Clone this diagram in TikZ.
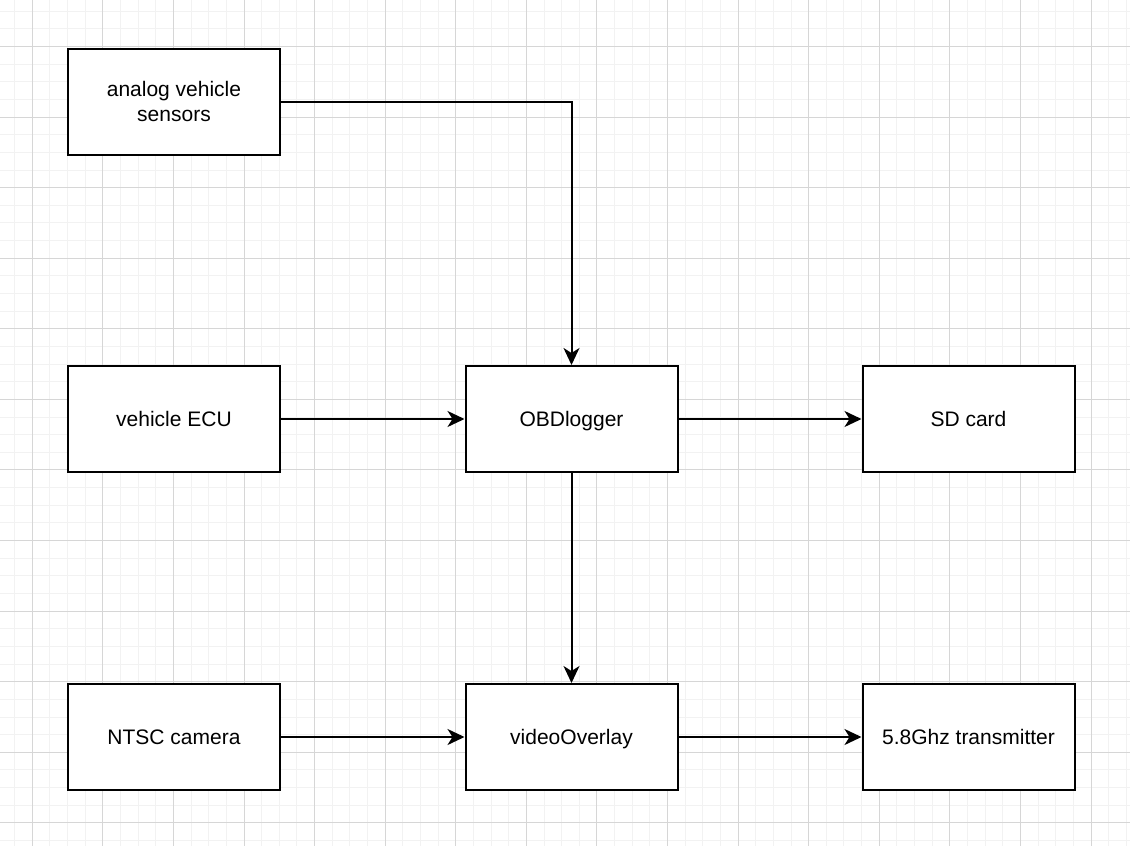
\documentclass[tikz,border=0pt]{standalone}
\usepackage{fontspec}
\setmainfont{Liberation Sans}
\usetikzlibrary{arrows.meta}

\begin{document}
\begin{tikzpicture}[
    x=1pt, y=-1pt,
    % Global styles
    minorline/.style={draw=black!5, line width=1pt},
    majorline/.style={draw=black!16, line width=1pt},
    block/.style={rectangle, draw=black, fill=white, line width=2pt,
        minimum width=212pt, minimum height=106pt, align=center,
        text depth=0pt, font=\fontsize{21}{25.4}\selectfont},
    flow/.style={line width=2pt, -{Stealth[length=17pt, width=16pt, inset=5pt]}}
    ]
    % ===========================
    % BACKGROUND GRID
    % ===========================
    \fill[white] (0,0) rectangle (1130,846);
    \useasboundingbox (0,0) rectangle (1130,846);

    % Minor lines
    \foreach \i in {0,...,63}
        \draw[minorline] ({14.65+17.645*\i},0) -- ({14.65+17.645*\i},846);
    \foreach \j in {0,...,47}
        \draw[minorline] (0,{11.2+17.645*\j}) -- (1130,{11.2+17.645*\j});

    % Major lines
    \foreach \i in {0,...,15}
        \draw[majorline] ({32.3+70.58*\i},0) -- ({32.3+70.58*\i},846);
    \foreach \j in {0,...,11}
        \draw[majorline] (0,{46.5+70.58*\j}) -- (1130,{46.5+70.58*\j});

    % ===========================
    % BLOCKS
    % ===========================

    % Left column
    \node[block] (sensors) at (174, 101.5) {analog vehicle\\sensors};
    \node[block] (ecu) at (174, 419) {vehicle ECU};
    \node[block] (camera) at (174, 737) {NTSC camera};

    % Middle column
    \node[block] (obdlogger) at (571.5, 419) {OBDlogger};
    \node[block] (overlay) at (571.5, 737) {videoOverlay};

    % Right column
    \node[block] (sdcard) at (968.5, 419) {SD card};
    \node[block] (transmitter) at (968.5, 737) {5.8Ghz transmitter};

    % ===========================
    % CONNECTIONS
    % ===========================
    \draw[flow] (sensors.east) -| (obdlogger.north);
    \draw[flow] (ecu) -- (obdlogger);
    \draw[flow] (obdlogger) -- (sdcard);
    \draw[flow] (obdlogger) -- (overlay);
    \draw[flow] (camera) -- (overlay);
    \draw[flow] (overlay) -- (transmitter);

\end{tikzpicture}
\end{document}
